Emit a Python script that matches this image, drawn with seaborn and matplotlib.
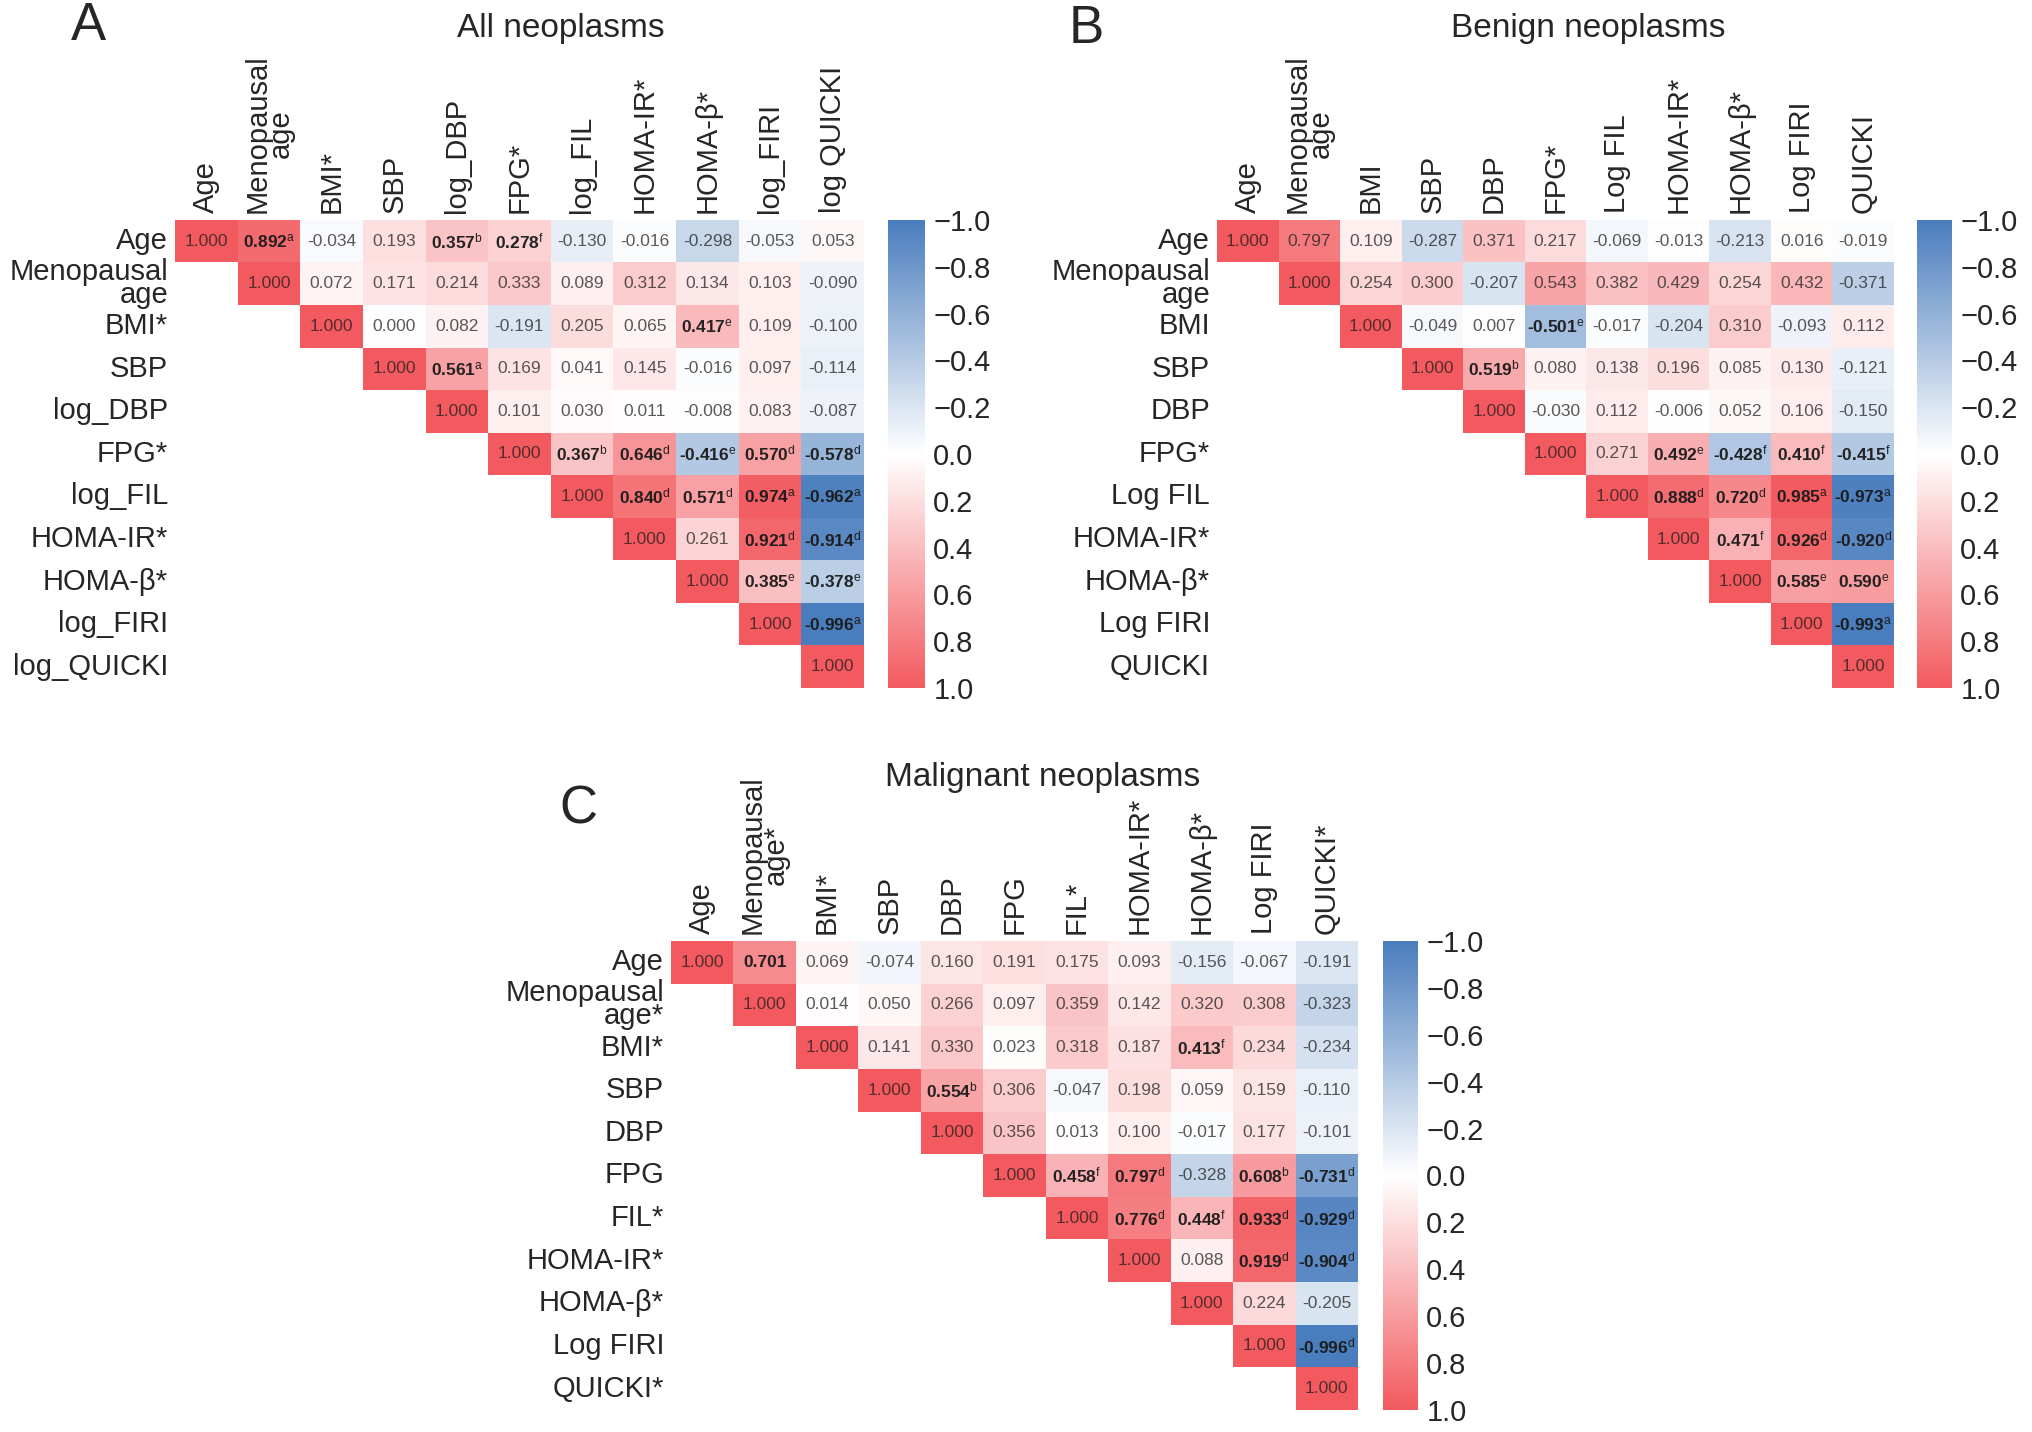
import numpy as np
import pandas as pd
import seaborn as sns
import matplotlib.pyplot as plt
from matplotlib.colors import LinearSegmentedColormap

# ---- dados (triângulo superior, linha a linha) ----
# sig: '' = não significativo, letra = sobrescrito (negrito), '0' = negrito sem letra

rotulos_linhas_a = ['Age', 'Menopausal\nage', 'BMI*', 'SBP', 'log_DBP', 'FPG*',
                    'log_FIL', 'HOMA-IR*', 'HOMA-β*', 'log_FIRI', 'log_QUICKI']
rotulos_colunas_a = ['Age', 'Menopausal\nage', 'BMI*', 'SBP', 'log_DBP', 'FPG*',
                     'log_FIL', 'HOMA-IR*', 'HOMA-β*', 'log_FIRI', 'log QUICKI']
valores_a = [
    [1.000, 0.892, -0.034, 0.193, 0.357, 0.278, -0.130, -0.016, -0.298, -0.053, 0.053],
    [1.000, 0.072, 0.171, 0.214, 0.333, 0.089, 0.312, 0.134, 0.103, -0.090],
    [1.000, 0.000, 0.082, -0.191, 0.205, 0.065, 0.417, 0.109, -0.100],
    [1.000, 0.561, 0.169, 0.041, 0.145, -0.016, 0.097, -0.114],
    [1.000, 0.101, 0.030, 0.011, -0.008, 0.083, -0.087],
    [1.000, 0.367, 0.646, -0.416, 0.570, -0.578],
    [1.000, 0.840, 0.571, 0.974, -0.962],
    [1.000, 0.261, 0.921, -0.914],
    [1.000, 0.385, -0.378],
    [1.000, -0.996],
    [1.000],
]
sig_a = [
    ['', 'a', '', '', 'b', 'f', '', '', '', '', ''],
    ['', '', '', '', '', '', '', '', '', ''],
    ['', '', '', '', '', '', 'e', '', ''],
    ['', 'a', '', '', '', '', '', ''],
    ['', '', '', '', '', '', ''],
    ['', 'b', 'd', 'e', 'd', 'd'],
    ['', 'd', 'd', 'a', 'a'],
    ['', '', 'd', 'd'],
    ['', 'e', 'e'],
    ['', 'a'],
    [''],
]

rotulos_linhas_b = ['Age', 'Menopausal\nage', 'BMI', 'SBP', 'DBP', 'FPG*',
                    'Log FIL', 'HOMA-IR*', 'HOMA-β*', 'Log FIRI', 'QUICKI']
rotulos_colunas_b = rotulos_linhas_b
valores_b = [
    [1.000, 0.797, 0.109, -0.287, 0.371, 0.217, -0.069, -0.013, -0.213, 0.016, -0.019],
    [1.000, 0.254, 0.300, -0.207, 0.543, 0.382, 0.429, 0.254, 0.432, -0.371],
    [1.000, -0.049, 0.007, -0.501, -0.017, -0.204, 0.310, -0.093, 0.112],
    [1.000, 0.519, 0.080, 0.138, 0.196, 0.085, 0.130, -0.121],
    [1.000, -0.030, 0.112, -0.006, 0.052, 0.106, -0.150],
    [1.000, 0.271, 0.492, -0.428, 0.410, -0.415],
    [1.000, 0.888, 0.720, 0.985, -0.973],
    [1.000, 0.471, 0.926, -0.920],
    [1.000, 0.585, 0.590],
    [1.000, -0.993],
    [1.000],
]
sig_b = [
    ['', '', '', '', '', '', '', '', '', '', ''],
    ['', '', '', '', '', '', '', '', '', ''],
    ['', '', '', 'e', '', '', '', '', ''],
    ['', 'b', '', '', '', '', '', ''],
    ['', '', '', '', '', '', ''],
    ['', '', 'e', 'f', 'f', 'f'],
    ['', 'd', 'd', 'a', 'a'],
    ['', 'f', 'd', 'd'],
    ['', 'e', 'e'],
    ['', 'a'],
    [''],
]

rotulos_linhas_c = ['Age', 'Menopausal\nage*', 'BMI*', 'SBP', 'DBP', 'FPG',
                    'FIL*', 'HOMA-IR*', 'HOMA-β*', 'Log FIRI', 'QUICKI*']
rotulos_colunas_c = rotulos_linhas_c
valores_c = [
    [1.000, 0.701, 0.069, -0.074, 0.160, 0.191, 0.175, 0.093, -0.156, -0.067, -0.191],
    [1.000, 0.014, 0.050, 0.266, 0.097, 0.359, 0.142, 0.320, 0.308, -0.323],
    [1.000, 0.141, 0.330, 0.023, 0.318, 0.187, 0.413, 0.234, -0.234],
    [1.000, 0.554, 0.306, -0.047, 0.198, 0.059, 0.159, -0.110],
    [1.000, 0.356, 0.013, 0.100, -0.017, 0.177, -0.101],
    [1.000, 0.458, 0.797, -0.328, 0.608, -0.731],
    [1.000, 0.776, 0.448, 0.933, -0.929],
    [1.000, 0.088, 0.919, -0.904],
    [1.000, 0.224, -0.205],
    [1.000, -0.996],
    [1.000],
]
sig_c = [
    ['', '0', '', '', '', '', '', '', '', '', ''],
    ['', '', '', '', '', '', '', '', '', ''],
    ['', '', '', '', '', '', 'f', '', ''],
    ['', 'b', '', '', '', '', '', ''],
    ['', '', '', '', '', '', ''],
    ['', 'f', 'd', '', 'b', 'd'],
    ['', 'd', 'f', 'd', 'd'],
    ['', '', 'd', 'd'],
    ['', '', ''],
    ['', 'd'],
    [''],
]

# ---- estilo ----
sns.set_theme(style='white')
plt.rcParams['font.family'] = ['Liberation Sans', 'DejaVu Sans']
plt.rcParams['mathtext.fontset'] = 'custom'
plt.rcParams['mathtext.rm'] = 'Liberation Sans'
plt.rcParams['mathtext.it'] = 'Liberation Sans'
plt.rcParams['mathtext.bf'] = 'Liberation Sans:bold'

cmap = LinearSegmentedColormap.from_list('azul_vermelho', ['#4a7dbd', '#ffffff', '#f25a5f'])

TAM_ROTULO = 21
TAM_CELULA = 12.5


def montar(linhas, vazio):
    n = len(linhas)
    m = np.full((n, n), vazio, dtype=object)
    for i, linha in enumerate(linhas):
        m[i, i:] = linha
    return m


def painel(ax, cax, valores, sig, linhas, colunas):
    m = montar(valores, np.nan).astype(float)
    s = montar(sig, '')
    df = pd.DataFrame(m, index=linhas, columns=colunas)
    mascara = np.isnan(m)

    textos = np.full(m.shape, '', dtype=object)
    for i in range(m.shape[0]):
        for j in range(m.shape[1]):
            if not mascara[i, j]:
                txt = f'{m[i, j]:.3f}'
                if s[i, j] not in ('', '0'):
                    txt += r'$^{\mathrm{' + s[i, j] + '}}$'
                textos[i, j] = txt

    sns.heatmap(df, mask=mascara, cmap=cmap, vmin=-1, vmax=1,
                annot=textos, fmt='', ax=ax, cbar_ax=cax,
                annot_kws={'fontsize': TAM_CELULA, 'color': '#1a1a1a'},
                cbar_kws={'ticks': np.arange(-10, 11, 2) / 10})

    # negrito nos valores significativos
    for t in ax.texts:
        x, y = t.get_position()
        i, j = int(y), int(x)
        if s[i, j] != '':
            t.set_fontweight('bold')
            t.set_alpha(0.95)
        else:
            t.set_alpha(0.72)

    ax.xaxis.tick_top()
    ax.set_xticklabels(colunas, rotation=90, fontsize=TAM_ROTULO,
                       va='bottom', ha='center', linespacing=0.78)
    ax.set_yticklabels(linhas, rotation=0, fontsize=TAM_ROTULO,
                       va='center', ha='right', linespacing=0.78)
    ax.tick_params(length=0, pad=5)
    ax.set_xlabel('')
    ax.set_ylabel('')

    cb = ax.collections[0].colorbar
    cb.ax.invert_yaxis()
    cb.outline.set_visible(False)
    cb.ax.tick_params(length=0, labelsize=TAM_ROTULO, pad=6)


fig = plt.figure(figsize=(20.32, 14.32), dpi=100)

ax_a = fig.add_axes([0.0861, 0.5196, 0.3391, 0.3268])
cax_a = fig.add_axes([0.4370, 0.5196, 0.0182, 0.3268])
painel(ax_a, cax_a, valores_a, sig_a, rotulos_linhas_a, rotulos_colunas_a)

ax_b = fig.add_axes([0.5989, 0.5196, 0.3332, 0.3268])
cax_b = fig.add_axes([0.9434, 0.5196, 0.0172, 0.3268])
painel(ax_b, cax_b, valores_b, sig_b, rotulos_linhas_b, rotulos_colunas_b)

ax_c = fig.add_axes([0.3302, 0.0154, 0.3381, 0.3275])
cax_c = fig.add_axes([0.6806, 0.0154, 0.0172, 0.3275])
painel(ax_c, cax_c, valores_c, sig_c, rotulos_linhas_c, rotulos_colunas_c)

# títulos e letras dos painéis
fig.text(0.276, 0.980, 'All neoplasms', fontsize=24, ha='center', va='center')
fig.text(0.7815, 0.980, 'Benign neoplasms', fontsize=24, ha='center', va='center')
fig.text(0.513, 0.457, 'Malignant neoplasms', fontsize=24, ha='center', va='center')

fig.text(0.0433, 0.982, 'A', fontsize=38, ha='center', va='center')
fig.text(0.5345, 0.980, 'B', fontsize=38, ha='center', va='center')
fig.text(0.2844, 0.435, 'C', fontsize=38, ha='center', va='center')

fig.savefig('out.png', dpi=100)
